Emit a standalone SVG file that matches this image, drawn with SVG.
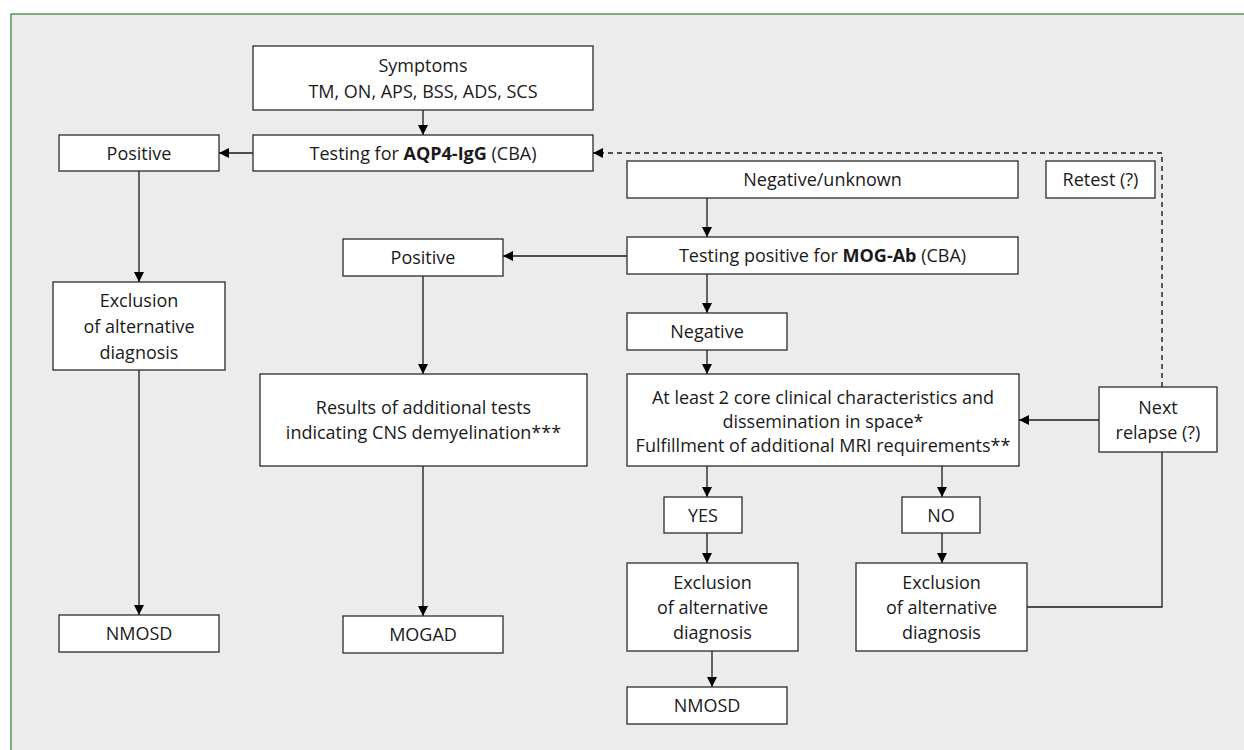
<svg xmlns="http://www.w3.org/2000/svg" width="1244" height="750" viewBox="0 0 1244 750">
<defs>
<marker id="ah" viewBox="0 0 10 10" refX="10" refY="5" markerWidth="10" markerHeight="10" markerUnits="userSpaceOnUse" orient="auto">
<path d="M0,0 L10,5 L0,10 z" fill="#000"/>
</marker>
</defs>
<style>
.box{fill:#fff;stroke:#2b2b2b;stroke-width:1.3}
.t{font-family:"Open Sans","Noto Sans",sans-serif;font-size:18px;fill:#1a1a1a;text-anchor:middle}
.b{font-weight:bold}
.c{fill:none;stroke:#1a1a1a;stroke-width:1.3}
.d{fill:none;stroke:#1a1a1a;stroke-width:1.4;stroke-dasharray:5,4}
</style>
<rect x="11" y="14" width="1240" height="745" fill="#ececec" stroke="#3d8a3f" stroke-width="1.3"/>

<g id="connectors">
<path class="c" d="M423,110 V135" marker-end="url(#ah)"/>
<path class="c" d="M253,153 H219" marker-end="url(#ah)"/>
<path class="d" d="M1162,387 V153 H593" marker-end="url(#ah)"/>
<path class="c" d="M139,171 V282" marker-end="url(#ah)"/>
<path class="c" d="M139,370 V615" marker-end="url(#ah)"/>
<path class="c" d="M707,198 V237" marker-end="url(#ah)"/>
<path class="c" d="M627,256 H503" marker-end="url(#ah)"/>
<path class="c" d="M707,274 V313" marker-end="url(#ah)"/>
<path class="c" d="M707,350 V374" marker-end="url(#ah)"/>
<path class="c" d="M423,276 V374" marker-end="url(#ah)"/>
<path class="c" d="M423,466 V616" marker-end="url(#ah)"/>
<path class="c" d="M1099,420 H1019" marker-end="url(#ah)"/>
<path class="c" d="M707,466 V497" marker-end="url(#ah)"/>
<path class="c" d="M942,466 V497" marker-end="url(#ah)"/>
<path class="c" d="M707,533 V563" marker-end="url(#ah)"/>
<path class="c" d="M942,533 V563" marker-end="url(#ah)"/>
<path class="c" d="M712,651 V687" marker-end="url(#ah)"/>
<path class="c" d="M1027,607 H1162 V452"/>
</g>

<g id="symptoms">
<rect class="box" x="253" y="46" width="340" height="64"/>
<text class="t" x="423" y="71.5">Symptoms</text>
<text class="t" x="423" y="97.5">TM, ON, APS, BSS, ADS, SCS</text>
</g>
<g id="aqp4">
<rect class="box" x="253" y="135" width="340" height="36"/>
<text class="t" x="423" y="159.5">Testing for <tspan class="b">AQP4-IgG</tspan> (CBA)</text>
</g>
<g id="positive1">
<rect class="box" x="59" y="135" width="160" height="36"/>
<text class="t" x="139" y="159.5">Positive</text>
</g>
<g id="exclusion1">
<rect class="box" x="53" y="282" width="172" height="88"/>
<text class="t" x="139" y="306.5">Exclusion</text>
<text class="t" x="139" y="332.5">of alternative</text>
<text class="t" x="139" y="358.5">diagnosis</text>
</g>
<g id="nmosd1">
<rect class="box" x="59" y="615" width="160" height="37"/>
<text class="t" x="139" y="640">NMOSD</text>
</g>
<g id="negunknown">
<rect class="box" x="627" y="161" width="391" height="37"/>
<text class="t" x="822.5" y="186">Negative/unknown</text>
</g>
<g id="retest">
<rect class="box" x="1046" y="161" width="109" height="37"/>
<text class="t" x="1100.5" y="186">Retest (?)</text>
</g>
<g id="mog">
<rect class="box" x="627" y="237" width="391" height="37"/>
<text class="t" x="822.5" y="262">Testing positive for <tspan class="b">MOG-Ab</tspan> (CBA)</text>
</g>
<g id="positive2">
<rect class="box" x="343" y="239" width="160" height="37"/>
<text class="t" x="423" y="264">Positive</text>
</g>
<g id="negative">
<rect class="box" x="627" y="313" width="160" height="37"/>
<text class="t" x="707" y="338">Negative</text>
</g>
<g id="results">
<rect class="box" x="260" y="374" width="327" height="92"/>
<text class="t" x="423.5" y="413.5">Results of additional tests</text>
<text class="t" x="423.5" y="438.5">indicating CNS demyelination***</text>
</g>
<g id="criteria">
<rect class="box" x="627" y="374" width="392" height="92"/>
<text class="t" x="823" y="403.5">At least 2 core clinical characteristics and</text>
<text class="t" x="823" y="428">dissemination in space*</text>
<text class="t" x="823" y="451.5">Fulfillment of additional MRI requirements**</text>
</g>
<g id="nextrelapse">
<rect class="box" x="1099" y="387" width="118" height="65"/>
<text class="t" x="1158" y="413.5">Next</text>
<text class="t" x="1158" y="438.5">relapse (?)</text>
</g>
<g id="mogad">
<rect class="box" x="343" y="616" width="160" height="37"/>
<text class="t" x="423" y="641">MOGAD</text>
</g>
<g id="yes">
<rect class="box" x="664" y="497" width="78" height="36"/>
<text class="t" x="703" y="521.5">YES</text>
</g>
<g id="no">
<rect class="box" x="902" y="497" width="78" height="36"/>
<text class="t" x="941" y="521.5">NO</text>
</g>
<g id="exclusion2">
<rect class="box" x="627" y="563" width="171" height="88"/>
<text class="t" x="712.5" y="588.5">Exclusion</text>
<text class="t" x="712.5" y="613.5">of alternative</text>
<text class="t" x="712.5" y="638.5">diagnosis</text>
</g>
<g id="exclusion3">
<rect class="box" x="856" y="563" width="171" height="88"/>
<text class="t" x="941.5" y="588.5">Exclusion</text>
<text class="t" x="941.5" y="613.5">of alternative</text>
<text class="t" x="941.5" y="638.5">diagnosis</text>
</g>
<g id="nmosd2">
<rect class="box" x="627" y="687" width="160" height="37"/>
<text class="t" x="707" y="712">NMOSD</text>
</g>
</svg>
